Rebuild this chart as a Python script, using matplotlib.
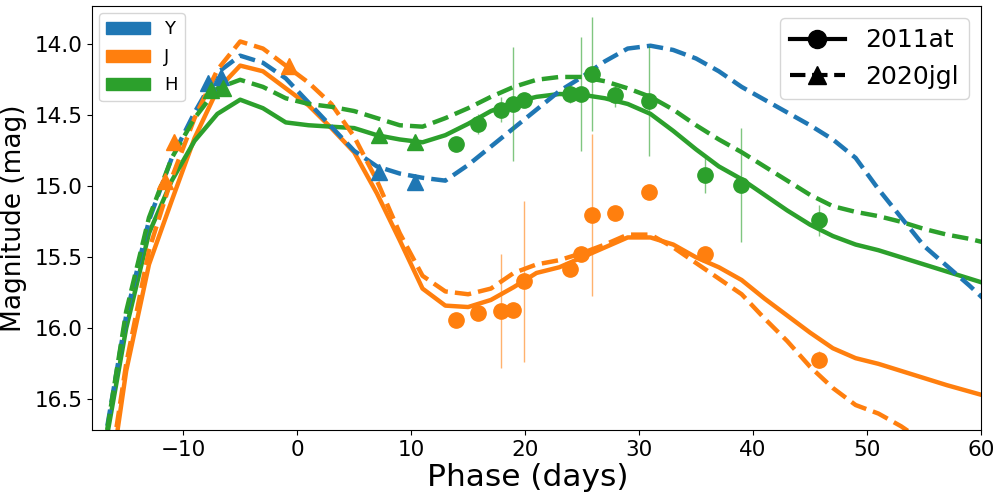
import matplotlib
matplotlib.use("Agg")
import matplotlib.pyplot as plt
from matplotlib.patches import Patch
from matplotlib.lines import Line2D
import numpy as np

# Model phase grid (days)
model_phase = [-17, -15, -13, -11, -9, -7, -5, -3, -1, 1, 3, 5, 7, 9, 11, 13, 15, 17, 19,
               21, 23, 25, 27, 29, 31, 33, 35, 37, 39, 41, 43, 45, 47, 49, 51, 53, 55, 57, 59, 61]

# 2011at model curves (solid)
at11_J = [17.40, 16.30, 15.55, 15.10, 14.66, 14.32, 14.15, 14.19, 14.31, 14.43, 14.59, 14.76,
          15.05, 15.38, 15.72, 15.84, 15.85, 15.80, 15.71, 15.61, 15.57, 15.50, 15.43, 15.36,
          15.36, 15.41, 15.50, 15.57, 15.66, 15.79, 15.91, 16.03, 16.14, 16.21, 16.25, 16.30,
          16.35, 16.40, 16.445, 16.49]
at11_H = [16.90, 16.00, 15.33, 14.96, 14.68, 14.49, 14.39, 14.45, 14.55, 14.57, 14.58, 14.59,
          14.64, 14.67, 14.69, 14.64, 14.56, 14.47, 14.41, 14.37, 14.35, 14.355, 14.38, 14.42,
          14.49, 14.61, 14.74, 14.86, 14.95, 15.06, 15.17, 15.27, 15.35, 15.41, 15.45, 15.50,
          15.55, 15.60, 15.65, 15.70]

# 2020jgl model curves (dashed)
jgl_Y = [16.85, 15.91, 15.24, 14.80, 14.48, 14.20, 14.08, 14.13, 14.24, 14.41, 14.58, 14.75,
         14.86, 14.91, 14.94, 14.96, 14.85, 14.72, 14.59, 14.46, 14.33, 14.23, 14.12, 14.03,
         14.01, 14.04, 14.10, 14.19, 14.30, 14.39, 14.48, 14.57, 14.67, 14.80, 15.02, 15.22,
         15.42, 15.56, 15.70, 15.85]
jgl_J = [17.30, 16.25, 15.45, 14.94, 14.52, 14.18, 13.98, 14.03, 14.15, 14.27, 14.42, 14.65,
         14.96, 15.33, 15.63, 15.74, 15.76, 15.72, 15.61, 15.55, 15.52, 15.47, 15.41, 15.34,
         15.34, 15.43, 15.54, 15.65, 15.76, 15.93, 16.09, 16.27, 16.42, 16.54, 16.60, 16.69,
         16.80, 16.90, 17.00, 17.10]
jgl_H = [16.88, 15.88, 15.22, 14.80, 14.52, 14.31, 14.25, 14.30, 14.38, 14.42, 14.44, 14.47,
         14.52, 14.57, 14.58, 14.52, 14.45, 14.37, 14.30, 14.25, 14.23, 14.23, 14.26, 14.31,
         14.37, 14.46, 14.57, 14.67, 14.76, 14.86, 14.96, 15.06, 15.14, 15.18, 15.21, 15.25,
         15.30, 15.34, 15.37, 15.41]

# 2011at observed photometry (circles)
obs_phase_J = [13.9, 15.9, 17.9, 18.9, 19.9, 23.9, 24.9, 25.9, 27.9, 30.9, 35.8, 45.8]
obs_mag_J = [15.94, 15.89, 15.88, 15.87, 15.67, 15.58, 15.48, 15.20, 15.19, 15.04, 15.48, 16.22]
obs_err_J = [0.02, 0.05, 0.40, 0.02, 0.57, 0.02, 0.02, 0.57, 0.02, 0.02, 0.03, 0.06]

obs_phase_H = [13.9, 15.9, 17.9, 18.9, 19.9, 23.9, 24.9, 25.9, 27.9, 30.9, 35.8, 38.9, 45.8]
obs_mag_H = [14.70, 14.56, 14.46, 14.42, 14.39, 14.35, 14.35, 14.21, 14.36, 14.40, 14.92, 14.99, 15.24]
obs_err_H = [0.05, 0.07, 0.09, 0.40, 0.05, 0.06, 0.40, 0.40, 0.08, 0.39, 0.13, 0.40, 0.11]

# 2020jgl observed photometry (triangles)
tri_phase_Y = [-7.8, -6.7, 7.2, 10.3]
tri_mag_Y = [14.27, 14.23, 14.90, 14.97]
tri_phase_J = [-11.6, -10.8, -0.7]
tri_mag_J = [14.96, 14.69, 14.15]
tri_phase_H = [-7.6, -6.5, 7.2, 10.3]
tri_mag_H = [14.32, 14.31, 14.64, 14.69]

bands = ["Y", "J", "H"]
colors = {"Y": "#1f77b4", "J": "#ff7f0e", "H": "#2ca02c"}

fig = plt.figure(figsize=(10, 4.96), dpi=100)
ax = fig.add_axes([0.092, 0.133, 0.889, 0.855])

lw = 3.2
ax.plot(model_phase, at11_J, color=colors["J"], lw=lw, ls="-")
ax.plot(model_phase, at11_H, color=colors["H"], lw=lw, ls="-")
ax.plot(model_phase, jgl_Y, color=colors["Y"], lw=lw, ls="--")
ax.plot(model_phase, jgl_J, color=colors["J"], lw=lw, ls="--")
ax.plot(model_phase, jgl_H, color=colors["H"], lw=lw, ls="--")

ms = 11
ax.errorbar(obs_phase_J, obs_mag_J, yerr=obs_err_J, fmt="o", color=colors["J"],
            ms=ms, elinewidth=1, ecolor=colors["J"], zorder=3)
ax.errorbar(obs_phase_H, obs_mag_H, yerr=obs_err_H, fmt="o", color=colors["H"],
            ms=ms, elinewidth=1, ecolor=colors["H"], zorder=3)
# lighten the error bars
for coll in ax.collections:
    coll.set_alpha(0.6)

ax.plot(tri_phase_Y, tri_mag_Y, "^", color=colors["Y"], ms=ms, zorder=3)
ax.plot(tri_phase_J, tri_mag_J, "^", color=colors["J"], ms=ms, zorder=3)
ax.plot(tri_phase_H, tri_mag_H, "^", color=colors["H"], ms=ms, zorder=3)

ax.set_xlim(-18, 60)
ax.set_ylim(16.716, 13.73)
ax.set_yticks([14.0, 14.5, 15.0, 15.5, 16.0, 16.5])
ax.set_xticks([-10, 0, 10, 20, 30, 40, 50, 60])
ax.tick_params(labelsize=15.5)
ax.set_xlabel("Phase (days)", fontsize=22.5, x=0.49, labelpad=2)
ax.set_ylabel("Magnitude (mag)", fontsize=19, labelpad=5)

leg1 = ax.legend(handles=[Patch(color=colors[b], label=b) for b in bands],
                 loc="upper left", fontsize=13, handlelength=2.4, borderaxespad=0.4,
                 labelspacing=0.55)
ax.add_artist(leg1)
h2 = [Line2D([], [], color="k", lw=3, ls="-", marker="o", ms=13, label="2011at"),
      Line2D([], [], color="k", lw=3, ls="--", marker="^", ms=13, label="2020jgl")]
ax.legend(handles=h2, loc="upper right", fontsize=18, handlelength=2.2)

fig.savefig("out.png", dpi=100)
